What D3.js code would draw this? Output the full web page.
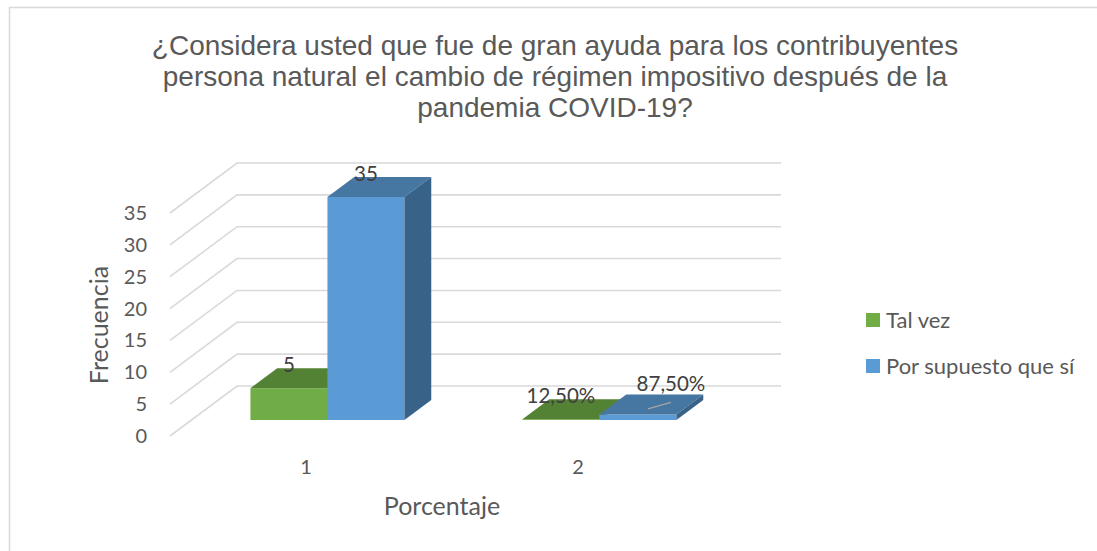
<!DOCTYPE html>
<html>
<head>
<meta charset="utf-8">
<script src="https://cdn.jsdelivr.net/npm/d3@7"></script>
<style>
  html, body { margin: 0; padding: 0; background: #ffffff; }
  svg { display: block; }
</style>
</head>
<body>
<svg id="chart" width="1097" height="551"></svg>
<script>
// Survey answers per group (1 = frecuencia, 2 = porcentaje)
const categories = ["1", "2"];
const seriesNames = ["Tal vez", "Por supuesto que sí"];
const talVez = [5, 0.125];
const porSupuesto = [35, 0.875];
const valueLabels = [["5", "12,50%"], ["35", "87,50%"]];
const yTicks = [0, 5, 10, 15, 20, 25, 30, 35];
const titleLines = [
  "¿Considera usted que fue de gran ayuda para los contribuyentes",
  "persona natural el cambio de régimen impositivo después de la",
  "pandemia COVID-19?"
];

const series = [
  { name: seriesNames[0], values: talVez, front: "#70ad47", top: "#548235", side: "#4e7a31" },
  { name: seriesNames[1], values: porSupuesto, front: "#5b9bd5", top: "#4676a2", side: "#386288" }
];

const svg = d3.select("#chart");
const textColor = "#595959";
const gridColor = "#d9d9d9";
const bodyFont = "Lato, 'Open Sans', sans-serif";

// chart frame
svg.append("path")
  .attr("d", "M9.5,551 L9.5,7.5 L1097,7.5")
  .attr("fill", "none")
  .attr("stroke", "#d9d9d9")
  .attr("stroke-width", 1.5);

// title
svg.append("g").selectAll("text")
  .data(titleLines)
  .join("text")
  .attr("x", 555)
  .attr("y", (d, i) => 55 + i * 31)
  .attr("text-anchor", "middle")
  .attr("font-family", "'Liberation Sans', Arial, sans-serif")
  .attr("font-size", 28)
  .attr("fill", textColor)
  .text(d => d);

// oblique 3D projection: front plane x, value, depth (0 = front, 1 = back wall)
const depthDX = 67, depthDY = -50;
const y = d3.scaleLinear().domain([0, 35]).range([436, 213]);
const x = d3.scaleBand().domain(categories).range([170, 714]);
const inner = d3.scaleBand().domain(seriesNames).range([0, x.bandwidth()]).paddingOuter(0.766).paddingInner(0);
const proj = (px, v, d) => [px + depthDX * d, y(v) + depthDY * d];
const barD0 = 0.32, barD1 = 0.72;

// gridlines: wall diagonals + back wall lines
const grid = svg.append("g").attr("stroke", gridColor).attr("stroke-width", 1.6).attr("fill", "none");
yTicks.forEach(v => {
  const a = proj(x.range()[0], v, 0), b = proj(x.range()[0], v, 1), c = proj(x.range()[1], v, 1);
  grid.append("path").attr("d", d3.line()([a, b, c]));
});

// y tick labels
svg.append("g").selectAll("text")
  .data(yTicks)
  .join("text")
  .attr("x", 147)
  .attr("y", d => y(d) + 7)
  .attr("text-anchor", "end")
  .attr("font-family", bodyFont)
  .attr("font-size", 20)
  .attr("fill", textColor)
  .text(d => d);

// category labels
svg.append("g").selectAll("text")
  .data(categories)
  .join("text")
  .attr("x", d => x(d) + x.bandwidth() / 2)
  .attr("y", 474)
  .attr("text-anchor", "middle")
  .attr("font-family", bodyFont)
  .attr("font-size", 20)
  .attr("fill", textColor)
  .text(d => d);

// axis titles
svg.append("text")
  .attr("transform", "translate(108,325) rotate(-90)")
  .attr("text-anchor", "middle")
  .attr("font-family", bodyFont)
  .attr("font-size", 25)
  .attr("fill", textColor)
  .text("Frecuencia");
svg.append("text")
  .attr("x", 442)
  .attr("y", 515)
  .attr("text-anchor", "middle")
  .attr("font-family", bodyFont)
  .attr("font-size", 25)
  .attr("fill", textColor)
  .text("Porcentaje");

// 3D bars
const bars = svg.append("g");
const poly = pts => "M" + pts.map(p => p.join(",")).join("L") + "Z";
categories.forEach((cat, ci) => {
  series.forEach(s => {
    const v = s.values[ci];
    const x0 = x(cat) + inner(s.name), x1 = x0 + inner.bandwidth();
    const f00 = proj(x0, 0, barD0), f10 = proj(x1, 0, barD0);
    const f01 = proj(x0, v, barD0), f11 = proj(x1, v, barD0);
    const b01 = proj(x0, v, barD1), b11 = proj(x1, v, barD1), b10 = proj(x1, 0, barD1);
    const g = bars.append("g");
    g.append("path").attr("d", poly([f00, f10, f11, f01])).attr("fill", s.front);
    g.append("path").attr("d", poly([f01, f11, b11, b01])).attr("fill", s.top);
    g.append("path").attr("d", poly([f10, b10, b11, f11])).attr("fill", s.side);
  });
});

// value labels
series.forEach((s, si) => {
  categories.forEach((cat, ci) => {
    const v = s.values[ci];
    const cx = x(cat) + inner(s.name) + inner.bandwidth() / 2;
    const top = proj(cx, v, barD1);
    const moved = si === 1 && ci === 1;
    const lx = top[0] - depthDX * (barD1 - barD0) + (moved ? 33 : 0);
    const ly = top[1] + (moved ? -3 : 4);
    if (moved) {
      const anchor = proj(cx, v, (barD0 + barD1) / 2 - 0.05);
      svg.append("line")
        .attr("x1", anchor[0]).attr("y1", anchor[1] + 2)
        .attr("x2", lx).attr("y2", ly + 11)
        .attr("stroke", "#a6a6a6").attr("stroke-width", 1.2);
    }
    svg.append("text")
      .attr("x", lx)
      .attr("y", ly)
      .attr("text-anchor", "middle")
      .attr("font-family", bodyFont)
      .attr("font-size", 20.5)
      .attr("fill", "#404040")
      .text(valueLabels[si][ci]);
  });
});

// legend
const legend = svg.append("g").attr("transform", "translate(866,313)");
series.forEach((s, i) => {
  const row = legend.append("g").attr("transform", `translate(0,${i * 46})`);
  row.append("rect").attr("width", 14).attr("height", 14).attr("fill", s.front);
  row.append("text")
    .attr("x", 20).attr("y", 15)
    .attr("font-family", bodyFont)
    .attr("font-size", 22)
    .attr("fill", textColor)
    .text(s.name);
});
</script>
</body>
</html>
